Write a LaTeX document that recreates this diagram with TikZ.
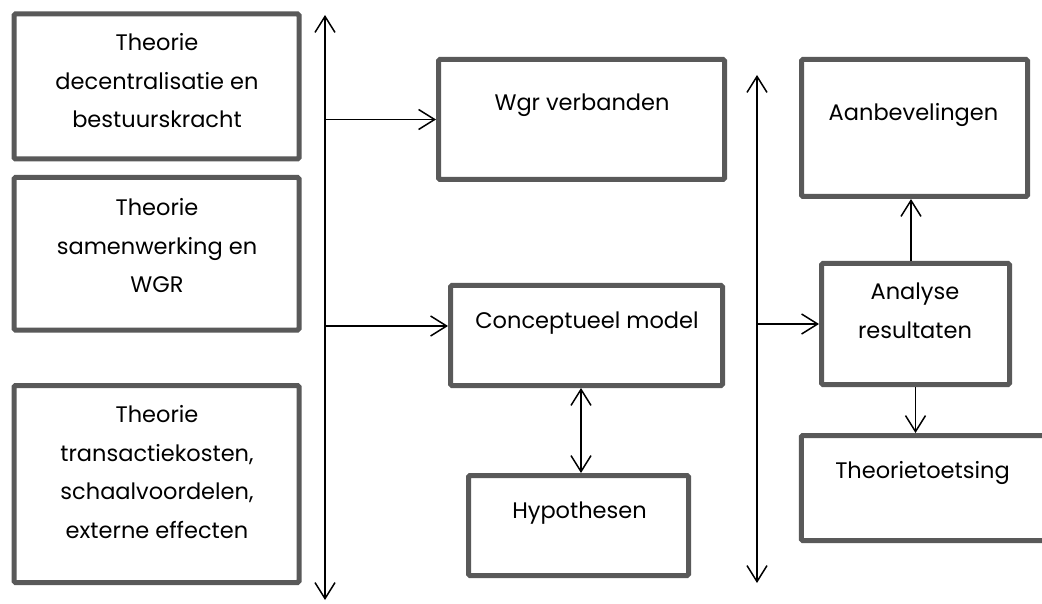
\documentclass[tikz,border=0pt]{standalone}
\usepackage{fontspec}
\setmainfont{Poppins}
\usetikzlibrary{arrows.meta}
\definecolor{framegray}{HTML}{595959}
\tikzset{
  frame/.style={draw=framegray, line width=5pt, rounded corners=1.5pt,
    inner sep=0pt, minimum width=#1},
  label text/.style={align=center, inner sep=0pt, text=black,
    font=\fontsize{22.5}{38.5}\selectfont},
  conn/.style={line width=1.5pt, -{Straight Barb[length=16pt,width=20pt,line width=1.5pt]}},
  dconn/.style={line width=1.5pt, {Straight Barb[length=16pt,width=20pt,line width=1.5pt]}-{Straight Barb[length=16pt,width=20pt,line width=1.5pt]}}
}
\begin{document}
\begin{tikzpicture}[x=1pt, y=-1pt]
\useasboundingbox (0,0) rectangle (1042,604);
\clip (0,0) rectangle (1042,604);
\fill[white] (0,0) rectangle (1042,604);

% theory boxes on the left
\node[frame=285pt, minimum height=145pt] (t1) at (156.5,86.5) {};
\node[frame=285pt, minimum height=152.5pt] (t2) at (156.5,253.75) {};
\node[frame=285pt, minimum height=197pt] (t3) at (156.5,484) {};
\node[label text] (t1txt) at (157,81) {Theorie\\decentralisatie en\\bestuurskracht};
\node[label text] (t2txt) at (157,246) {Theorie\\samenwerking en\\WGR};
\node[label text] (t3txt) at (157,472) {Theorie\\transactiekosten,\\schaalvoordelen,\\externe effecten};

% middle column
\node[frame=286pt, minimum height=120pt] (wgr) at (581.5,119.5) {};
\node[frame=272pt, minimum height=100pt] (concept) at (586.5,335.5) {};
\node[frame=220pt, minimum height=100pt] (hypo) at (578.5,525.5) {};
\node[label text] (wgrtxt) at (582,105) {Wgr verbanden};
\node[label text] (concepttxt) at (587,323) {Conceptueel model};
\node[label text] (hypotxt) at (579.5,513) {Hypothesen};

% right column
\node[frame=226pt, minimum height=137pt] (aanb) at (914.5,128) {};
\node[frame=188pt, minimum height=121pt] (analyse) at (915.5,324) {};
\node[frame=259pt, minimum height=105pt] (toets) at (930.75,488) {};
\node[label text] (aanbtxt) at (913.5,115) {Aanbevelingen};
\node[label text] (analysetxt) at (915,311) {Analyse\\resultaten};
\node[label text] (toetstxt) at (922.5,473) {Theorietoetsing};

% vertical carrier lines
\coordinate (v1top) at (325,15);
\coordinate (v1bot) at (325,600);
\coordinate (v2top) at (757,75);
\coordinate (v2bot) at (757,583);
\draw[dconn] (v1bot) -- (v1top);
\draw[dconn] (v2bot) -- (v2top);

% connectors
\draw[conn] (v1top |- wgr.west) -- (wgr.west);
\draw[conn] (v1top |- 0,326) -- (concept.west |- 0,326);
\draw[conn] (v2top |- analyse.west) -- (analyse.west);
\draw[dconn] (concept.south -| 581,0) -- (hypo.north -| 581,0);
\draw[conn] (analyse.north -| 911,0) -- (aanb.south -| 911,0);
\draw[conn] (analyse.south) -- (toets.north -| analyse.south);
\end{tikzpicture}
\end{document}
